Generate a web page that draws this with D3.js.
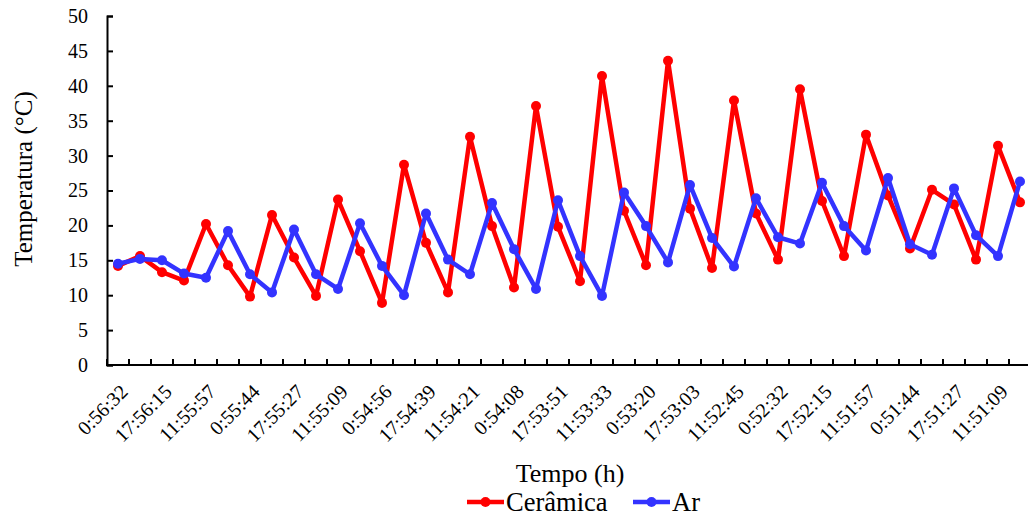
<!DOCTYPE html>
<html>
<head>
<meta charset="utf-8">
<script src="https://cdn.jsdelivr.net/npm/d3@7"></script>
<style>
  body { margin: 0; background: #fff; }
</style>
</head>
<body>
<div id="viz"></div>
<script>
// Temperature readings, 42 samples
var ceramica = [14.2, 15.6, 13.3, 12.1, 20.2, 14.3, 9.8, 21.5, 15.4, 9.9,
                23.7, 16.3, 8.9, 28.7, 17.5, 10.4, 32.7, 19.9, 11.1, 37.1,
                19.8, 12.0, 41.4, 22.1, 14.3, 43.6, 22.4, 13.9, 37.9, 21.7,
                15.1, 39.5, 23.5, 15.6, 33.0, 24.3, 16.7, 25.1, 23.0, 15.1,
                31.4, 23.3];
var ar = [14.5, 15.2, 15.0, 13.1, 12.5, 19.2, 13.0, 10.4, 19.4, 13.0,
          10.9, 20.3, 14.2, 10.0, 21.7, 15.1, 13.0, 23.2, 16.6, 10.9,
          23.6, 15.6, 9.9, 24.7, 19.9, 14.7, 25.8, 18.2, 14.1, 23.9,
          18.3, 17.4, 26.1, 19.9, 16.4, 26.8, 17.3, 15.8, 25.3, 18.6,
          15.6, 26.3];
// every second sample is labelled on the axis
var tickLabels = ["0:56:32", "17:56:15", "11:55:57", "0:55:44", "17:55:27",
                  "11:55:09", "0:54:56", "17:54:39", "11:54:21", "0:54:08",
                  "17:53:51", "11:53:33", "0:53:20", "17:53:03", "11:52:45",
                  "0:52:32", "17:52:15", "11:51:57", "0:51:44", "17:51:27",
                  "11:51:09"];
var yTicks = [0, 5, 10, 15, 20, 25, 30, 35, 40, 45, 50];
var seriesNames = ["Cerâmica", "Ar"];
var seriesColors = ["#ff0000", "#3333ff"];

var width = 1028, height = 519;
var font = "'Liberation Serif', 'Times New Roman', serif";
var idx = d3.range(ceramica.length);

var svg = d3.select('#viz').append('svg')
    .attr('width', width)
    .attr('height', height)
    .style('font-family', font);

var x = d3.scaleBand()
    .domain(idx)
    .range([107, 1031]);

var y = d3.scaleLinear()
    .domain([0, 50])
    .range([365, 16]);

// y axis, ticks pointing inward
var yAxis = svg.append('g')
    .attr('transform', 'translate(107,0)')
    .call(d3.axisLeft(y).tickValues(yTicks).tickSize(-6).tickPadding(19));
yAxis.attr('font-family', null);
yAxis.select('.domain').attr('stroke', '#000').attr('stroke-width', 2);
yAxis.selectAll('line').attr('stroke', '#000').attr('stroke-width', 2);
yAxis.selectAll('text')
    .style('font-size', '20px')
    .style('font-family', font)
    .attr('fill', '#000');

// x axis: line, tick marks between categories, rotated labels
var xAxis = svg.append('g');
xAxis.append('line')
    .attr('x1', 106).attr('x2', 1028)
    .attr('y1', y(0)).attr('y2', y(0))
    .attr('stroke', '#000').attr('stroke-width', 2);
xAxis.selectAll('.tk')
    .data(idx.concat([idx.length]))
    .enter().append('line')
    .attr('class', 'tk')
    .attr('x1', function(d) { return d < idx.length ? x(d) : x(d - 1) + x.bandwidth(); })
    .attr('x2', function(d) { return d < idx.length ? x(d) : x(d - 1) + x.bandwidth(); })
    .attr('y1', y(0)).attr('y2', y(0) - 6)
    .attr('stroke', '#000').attr('stroke-width', 2);
xAxis.selectAll('.lbl')
    .data(tickLabels)
    .enter().append('text')
    .attr('class', 'lbl')
    .attr('transform', function(d, i) {
        return 'translate(' + (x(i * 2) + x.bandwidth() / 2 + 11) + ',393) rotate(-45)';
    })
    .style('text-anchor', 'end')
    .style('font-size', '20px')
    .style('font-family', font)
    .text(function(d) { return d; });

// series
var line = d3.line()
    .x(function(d, i) { return x(i) + x.bandwidth() / 2; })
    .y(function(d) { return y(d); });

[ceramica, ar].forEach(function(s, k) {
    var g = svg.append('g');
    g.append('path')
        .datum(s)
        .attr('d', line)
        .attr('fill', 'none')
        .attr('stroke', seriesColors[k])
        .attr('stroke-width', 4.5)
        .attr('stroke-linejoin', 'round');
    g.selectAll('circle')
        .data(s)
        .enter().append('circle')
        .attr('cx', function(d, i) { return x(i) + x.bandwidth() / 2; })
        .attr('cy', function(d) { return y(d); })
        .attr('r', 5)
        .attr('fill', seriesColors[k]);
});

// axis titles
svg.append('text')
    .attr('transform', 'translate(32,179) rotate(-90)')
    .style('text-anchor', 'middle')
    .style('font-size', '25px')
    .style('font-family', font)
    .text('Temperatura (°C)');

svg.append('text')
    .attr('x', 570).attr('y', 482)
    .style('text-anchor', 'middle')
    .style('font-size', '26px')
    .style('font-family', font)
    .text('Tempo (h)');

// legend
var legX = [467, 633];
seriesNames.forEach(function(n, k) {
    var lg = svg.append('g').attr('transform', 'translate(' + legX[k] + ',502)');
    lg.append('line')
        .attr('x1', 0).attr('x2', 37)
        .attr('stroke', seriesColors[k]).attr('stroke-width', 4.5);
    lg.append('circle')
        .attr('cx', 18.5).attr('r', 5)
        .attr('fill', seriesColors[k]);
    lg.append('text')
        .attr('x', 39).attr('y', 9)
        .style('font-size', '26.5px')
        .style('font-family', font)
        .text(n);
});
</script>
</body>
</html>
